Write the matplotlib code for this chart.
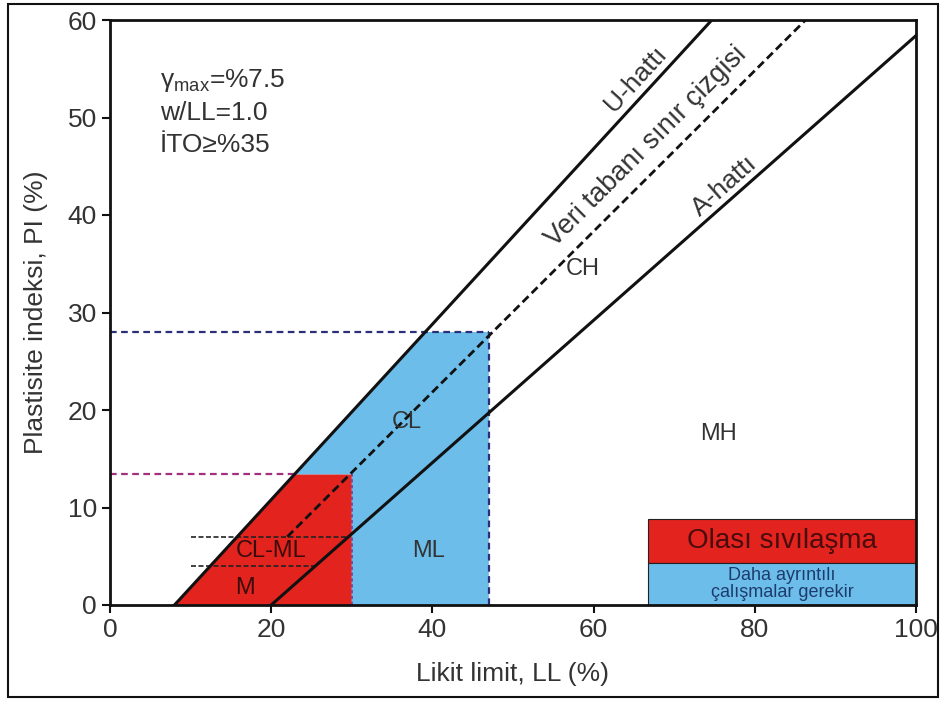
import numpy as np
import matplotlib
matplotlib.use("Agg")
import matplotlib.pyplot as plt
from matplotlib.patches import Polygon, Rectangle

plt.rcParams['font.family'] = ['Liberation Sans', 'DejaVu Sans']
plt.rcParams['mathtext.default'] = 'regular'

# ---- data ----
u_ll = [8, 74.67]; u_pi = [0, 60]            # U-hattı
a_ll = [20, 100]; a_pi = [0, 58.4]           # A-hattı
db_ll = [22, 86.3]; db_pi = [7, 60]          # Veri tabanı sınır çizgisi
red_ll = [8, 22.9, 30, 30]; red_pi = [0, 13.4, 13.4, 0]
blue_ll = [22.9, 39.1, 47, 47, 30, 30]; blue_pi = [13.4, 28, 28, 0, 0, 13.4]
pi_red_top = 13.4; ll_red_right = 30
pi_blue_top = 28; ll_blue_right = 47
clml_upper = 7; clml_lower = 4
clml_upper_ll = [10, 29.6]; clml_lower_ll = [10, 25.5]
leg_ll = [66.8, 100]; leg_red_pi = [4.3, 8.8]; leg_blue_pi = [0, 4.3]
xticks = [0, 20, 40, 60, 80, 100]; yticks = [0, 10, 20, 30, 40, 50, 60]

RED = '#e2231e'; BLUE = '#6cbde9'
TXT = '#333333'

fig = plt.figure(figsize=(9.43, 7.04), dpi=100)
ax = fig.add_axes([110/943, 1-605/704, (916-110)/943, (605-20)/704])
ax.set_xlim(0, 100); ax.set_ylim(0, 60)

ax.add_patch(Polygon(list(zip(red_ll, red_pi)), closed=True, fc=RED, ec='none', zorder=1))
ax.add_patch(Polygon(list(zip(blue_ll, blue_pi)), closed=True, fc=BLUE, ec='none', zorder=1))

# dashed guides
ax.plot([0, ll_blue_right], [pi_blue_top]*2, ls=(0, (3, 2)), color='#2b2f7a', lw=1.6, zorder=2)
ax.plot([ll_blue_right]*2, [0, pi_blue_top], ls=(0, (3, 2)), color='#2b2f7a', lw=1.6, zorder=2)
ax.plot([0, red_ll[1]], [pi_red_top]*2, ls=(0, (3, 2)), color='#a3307e', lw=1.6, zorder=2)
ax.plot([ll_red_right]*2, [0, pi_red_top], ls=(0, (2, 1.5)), color='#7a3a9a', lw=1.2, zorder=2)
ax.plot(clml_upper_ll, [clml_upper]*2, ls=(0, (3, 1.5)), color='#222222', lw=1.2, zorder=2)
ax.plot(clml_lower_ll, [clml_lower]*2, ls=(0, (3, 1.5)), color='#222222', lw=1.2, zorder=2)

# main lines
ax.plot(u_ll, u_pi, color='#111111', lw=2.2, zorder=3)
ax.plot(a_ll, a_pi, color='#111111', lw=2.2, zorder=3)
ax.plot(db_ll, db_pi, color='#111111', lw=2.0, ls=(0, (3, 1.6)), zorder=3)

# legend boxes
ax.add_patch(Rectangle((leg_ll[0], leg_red_pi[0]), leg_ll[1]-leg_ll[0], leg_red_pi[1]-leg_red_pi[0],
                       fc=RED, ec='#222222', lw=0.8, zorder=2))
ax.add_patch(Rectangle((leg_ll[0], leg_blue_pi[0]), leg_ll[1]-leg_ll[0], leg_blue_pi[1]-leg_blue_pi[0],
                       fc=BLUE, ec='#222222', lw=0.8, zorder=2))
ax.text(83.4, 6.55, 'Olası sıvılaşma', fontsize=20, color='#4a0c0c', ha='center', va='center', zorder=4)
ax.text(83.4, 2.15, 'Daha ayrıntılı\nçalışmalar gerekir', fontsize=13, color='#1d3c6e',
        ha='center', va='center', linespacing=1.05, zorder=4)

# region labels
lab = dict(fontsize=17, color=TXT, ha='center', va='center', zorder=4)
ax.text(36.8, 18.8, 'CL', **lab)
ax.text(39.5, 5.5, 'ML', **lab)
ax.text(20.0, 5.5, 'CL-ML', fontsize=17, color='#3a0c0c', ha='center', va='center', zorder=4)
ax.text(16.7, 1.7, 'M', fontsize=17, color='#3a0c0c', ha='center', va='center', zorder=4)
ax.text(58.6, 34.5, 'CH', **lab)
ax.text(75.5, 17.5, 'MH', **lab)

def angle(xs, ys):
    p = ax.transData.transform(np.column_stack([xs, ys]))
    return np.degrees(np.arctan2(p[1, 1]-p[0, 1], p[1, 0]-p[0, 0]))

ax.text(65.2, 53.9, 'U-hattı', rotation=angle(u_ll, u_pi), rotation_mode='anchor',
        ha='center', va='center', fontsize=19, color=TXT, zorder=4)
ax.text(66.5, 47.0, 'Veri tabanı sınır çizgisi', rotation=angle(db_ll, db_pi), rotation_mode='anchor',
        ha='center', va='center', fontsize=19.5, color=TXT, zorder=4)
ax.text(76.3, 43.0, 'A-hattı', rotation=angle(a_ll, a_pi), rotation_mode='anchor',
        ha='center', va='center', fontsize=19, color=TXT, zorder=4)

# parameter text
ax.text(6.2, 53.8, r'$\gamma_{max}$=%7.5', fontsize=19, color=TXT, ha='left', va='center')
ax.text(6.2, 50.5, 'w/LL=1.0', fontsize=19, color=TXT, ha='left', va='center')
ax.text(6.2, 47.2, 'İTO≥%35', fontsize=19, color=TXT, ha='left', va='center')

ax.set_xticks(xticks); ax.set_yticks(yticks)
ax.tick_params(direction='out', length=6, width=1.5, labelsize=19, labelcolor=TXT, color='#111111')
for s in ax.spines.values():
    s.set_linewidth(2.0); s.set_color('#111111')
ax.set_xlabel('Likit limit, LL (%)', fontsize=19, color=TXT, labelpad=14)
ax.set_ylabel('Plastisite indeksi, PI (%)', fontsize=19, color=TXT, labelpad=14)

# outer frame
fig.add_artist(Rectangle((8/943, 1-697/704), (938-8)/943, (697-4)/704, transform=fig.transFigure,
                         fill=False, ec='#111111', lw=1.5))

fig.savefig('out.png', dpi=100)
